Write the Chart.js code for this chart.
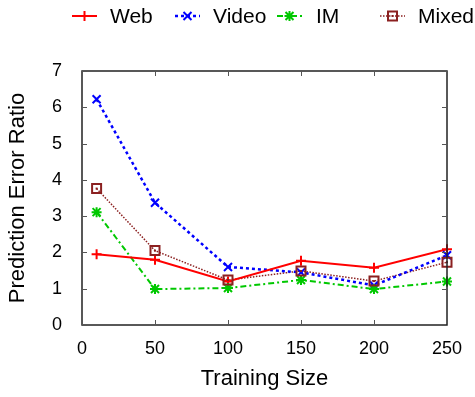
<!DOCTYPE html>
<html>
<head>
<meta charset="utf-8">
<script src="https://cdn.jsdelivr.net/npm/chart.js@4"></script>
<style>
  html, body { margin: 0; padding: 0; background: #fff; }
  #wrap { width: 475px; height: 397px; }
</style>
</head>
<body>
<div id="wrap"><canvas id="errChart" width="475" height="397"></canvas></div>
<script>
const trainingSizes = [10, 50, 100, 150, 200, 250];
const webRatio = [1.95, 1.8, 1.2, 1.77, 1.58, 2.09];
const videoRatio = [6.22, 3.37, 1.6, 1.45, 1.09, 1.92];
const imRatio = [3.11, 0.99, 1.02, 1.24, 0.99, 1.2];
const mixedRatio = [3.76, 2.05, 1.24, 1.49, 1.21, 1.73];
const xTicks = [0, 50, 100, 150, 200, 250];
const yTicks = [0, 1, 2, 3, 4, 5, 6, 7];

const FONT = "'Liberation Sans', Arial, sans-serif";

function toPoints(vals) {
  return trainingSizes.map((x, i) => ({ x: x, y: vals[i] }));
}

// draws a gnuplot-like marker
function drawMarker(c, kind, x, y, color) {
  c.save();
  c.setLineDash([]);
  c.strokeStyle = color;
  c.lineWidth = 2;
  c.beginPath();
  const r = 5;
  if (kind === 'plus') {
    c.moveTo(x - r, y); c.lineTo(x + r, y);
    c.moveTo(x, y - r); c.lineTo(x, y + r);
  } else if (kind === 'cross') {
    c.moveTo(x - 4, y - 4); c.lineTo(x + 4, y + 4);
    c.moveTo(x - 4, y + 4); c.lineTo(x + 4, y - 4);
  } else if (kind === 'star') {
    c.moveTo(x - r, y); c.lineTo(x + r, y);
    c.moveTo(x, y - r); c.lineTo(x, y + r);
    c.moveTo(x - 4, y - 4); c.lineTo(x + 4, y + 4);
    c.moveTo(x - 4, y + 4); c.lineTo(x + 4, y - 4);
  } else if (kind === 'box') {
    c.rect(x - 4.5, y - 4.5, 9, 9);
    c.stroke();
    c.beginPath();
    c.fillStyle = color;
    c.fillRect(x - 1, y - 1, 2, 2);
  }
  c.stroke();
  c.restore();
}

const markerPlugin = {
  id: 'markers',
  afterDatasetsDraw(chart) {
    const c = chart.ctx;
    chart.data.datasets.forEach((ds, i) => {
      const meta = chart.getDatasetMeta(i);
      meta.data.forEach(pt => drawMarker(c, ds.marker, pt.x, pt.y, ds.borderColor));
    });
  }
};

const framePlugin = {
  id: 'frame',
  afterDraw(chart) {
    const c = chart.ctx;
    const a = chart.chartArea;
    const xs = chart.scales.x, ys = chart.scales.y;
    c.save();
    c.strokeStyle = '#222';
    c.lineWidth = 1.5;
    c.strokeRect(a.left, a.top, a.right - a.left, a.bottom - a.top);
    c.lineWidth = 1;
    c.strokeStyle = '#555';
    c.beginPath();
    xTicks.forEach(v => {
      const px = Math.round(xs.getPixelForValue(v)) + 0.5;
      c.moveTo(px, a.bottom); c.lineTo(px, a.bottom - 5);
      c.moveTo(px, a.top); c.lineTo(px, a.top + 5);
    });
    yTicks.forEach(v => {
      const py = Math.round(ys.getPixelForValue(v)) + 0.5;
      c.moveTo(a.left, py); c.lineTo(a.left + 5, py);
      c.moveTo(a.right, py); c.lineTo(a.right - 5, py);
    });
    c.stroke();

    // legend across the top
    const slots = [
      { x1: 72, x2: 97, tx: 110 },
      { x1: 175, x2: 200, tx: 213 },
      { x1: 277, x2: 302, tx: 316 },
      { x1: 380, x2: 405, tx: 418 }
    ];
    const ly = 16;
    c.font = '21px ' + FONT;
    c.textBaseline = 'middle';
    c.textAlign = 'left';
    chart.data.datasets.forEach((ds, i) => {
      const s = slots[i];
      c.save();
      c.strokeStyle = ds.borderColor;
      c.lineWidth = ds.borderWidth;
      c.setLineDash(ds.borderDash || []);
      c.beginPath();
      c.moveTo(s.x1, ly); c.lineTo(s.x2, ly);
      c.stroke();
      c.restore();
      drawMarker(c, ds.marker, (s.x1 + s.x2) / 2, ly, ds.borderColor);
      c.fillStyle = '#000';
      c.fillText(ds.label, s.tx, ly + 1);
    });
    c.restore();
  }
};

new Chart(document.getElementById('errChart').getContext('2d'), {
  type: 'line',
  data: {
    datasets: [
      {
        label: 'Web',
        data: toPoints(webRatio),
        borderColor: '#ff0000',
        borderWidth: 2,
        marker: 'plus'
      },
      {
        label: 'Video',
        data: toPoints(videoRatio),
        borderColor: '#0000ff',
        borderWidth: 2.5,
        borderDash: [3, 3],
        marker: 'cross'
      },
      {
        label: 'IM',
        data: toPoints(imRatio),
        borderColor: '#00c800',
        borderWidth: 2,
        borderDash: [6, 3, 2, 3],
        marker: 'star'
      },
      {
        label: 'Mixed',
        data: toPoints(mixedRatio),
        borderColor: '#8b2020',
        borderWidth: 1.5,
        borderDash: [1.5, 1.5],
        marker: 'box'
      }
    ]
  },
  options: {
    responsive: false,
    animation: false,
    devicePixelRatio: 1,
    layout: { padding: { left: 0, right: 28, top: 71, bottom: 0 } },
    elements: {
      point: { radius: 0, hoverRadius: 0 },
      line: { tension: 0, fill: false }
    },
    plugins: {
      legend: { display: false },
      tooltip: { enabled: false }
    },
    scales: {
      x: {
        type: 'linear',
        min: 0,
        max: 250,
        afterFit: (s) => { s.height = 72; },
        afterBuildTicks: (s) => { s.ticks = xTicks.map(v => ({ value: v })); },
        grid: { display: false },
        border: { display: false },
        ticks: {
          padding: 5,
          maxRotation: 0,
          color: '#000',
          font: { family: FONT, size: 18 }
        },
        title: {
          display: true,
          text: 'Training Size',
          color: '#000',
          font: { family: FONT, size: 22 },
          padding: { top: 4, bottom: 5 }
        }
      },
      y: {
        type: 'linear',
        min: 0,
        max: 7,
        afterFit: (s) => { s.width = 82; },
        afterBuildTicks: (s) => { s.ticks = yTicks.map(v => ({ value: v })); },
        grid: { display: false },
        border: { display: false },
        ticks: {
          padding: 12,
          color: '#000',
          font: { family: FONT, size: 18 }
        },
        title: {
          display: true,
          text: 'Prediction Error Ratio',
          color: '#000',
          font: { family: FONT, size: 22 },
          padding: { top: 5, bottom: 4 }
        }
      }
    }
  },
  plugins: [markerPlugin, framePlugin]
});
</script>
</body>
</html>
